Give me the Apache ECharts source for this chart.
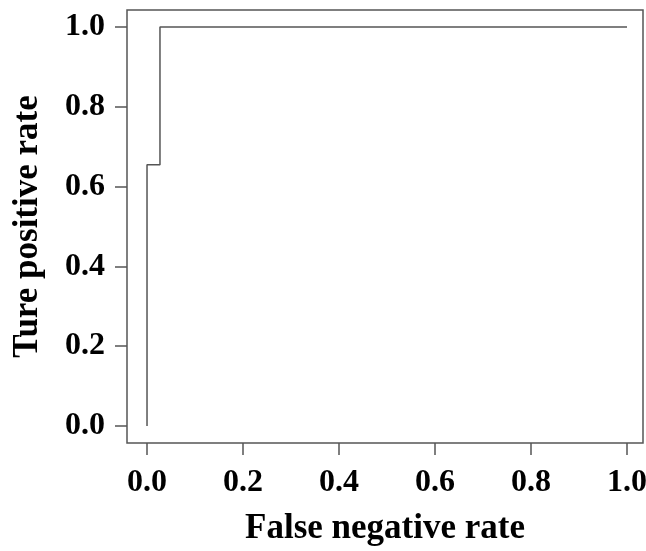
<!DOCTYPE html>
<html>
<head>
<meta charset="utf-8">
<script src="https://cdn.jsdelivr.net/npm/echarts@6/dist/echarts.min.js"></script>
<style>
    html, body { margin: 0; padding: 0; background: #fff; }
    #main { width: 646px; height: 551px; }
</style>
</head>
<body>
<div id="main"></div>
<script>
// ROC step curve points
var fpr = [0, 0, 0.027, 0.027, 1.0];
var tpr = [0, 0.655, 0.655, 1.0, 1.0];
var tickValues = [0, 0.2, 0.4, 0.6, 0.8, 1.0];

var myChart = echarts.init(document.getElementById('main'));

var font = 'Liberation Serif, Times New Roman, serif';

var option = {
    animation: false,
    grid: {
        left: 127,
        top: 10,
        right: 3,
        bottom: 108,
        outerBoundsMode: 'none',
        containLabel: false,
        show: true,
        borderColor: '#555',
        borderWidth: 1.5
    },
    xAxis: {
        type: 'value',
        min: -0.0417,
        max: 1.0333,
        name: 'False negative rate',
        nameLocation: 'middle',
        nameGap: 68,
        nameMoveOverlap: false,
        nameTextStyle: { fontFamily: font, fontWeight: 'bold', fontSize: 35, color: '#000' },
        axisLine: { show: false, onZero: false },
        axisTick: { customValues: tickValues, length: 12, lineStyle: { color: '#555', width: 1.5 } },
        axisLabel: {
            customValues: tickValues,
            margin: 24,
            fontFamily: font, fontWeight: 'bold', fontSize: 32, color: '#000',
            formatter: function (v) { return v.toFixed(1); }
        },
        splitLine: { show: false }
    },
    yAxis: {
        type: 'value',
        min: -0.0425,
        max: 1.0425,
        name: 'Ture positive rate',
        nameLocation: 'middle',
        nameGap: 82,
        nameMoveOverlap: false,
        nameTextStyle: { fontFamily: font, fontWeight: 'bold', fontSize: 35, color: '#000' },
        axisLine: { show: false, onZero: false },
        axisTick: { customValues: tickValues, length: 12, lineStyle: { color: '#555', width: 1.5 } },
        axisLabel: {
            customValues: tickValues,
            margin: 22,
            fontFamily: font, fontWeight: 'bold', fontSize: 32, color: '#000',
            formatter: function (v) { return v.toFixed(1); }
        },
        splitLine: { show: false }
    },
    series: [
        {
            type: 'line',
            data: fpr.map(function (x, i) { return [x, tpr[i]]; }),
            showSymbol: false,
            lineStyle: { color: '#555', width: 1.5 }
        }
    ]
};

myChart.setOption(option);
</script>
</body>
</html>
